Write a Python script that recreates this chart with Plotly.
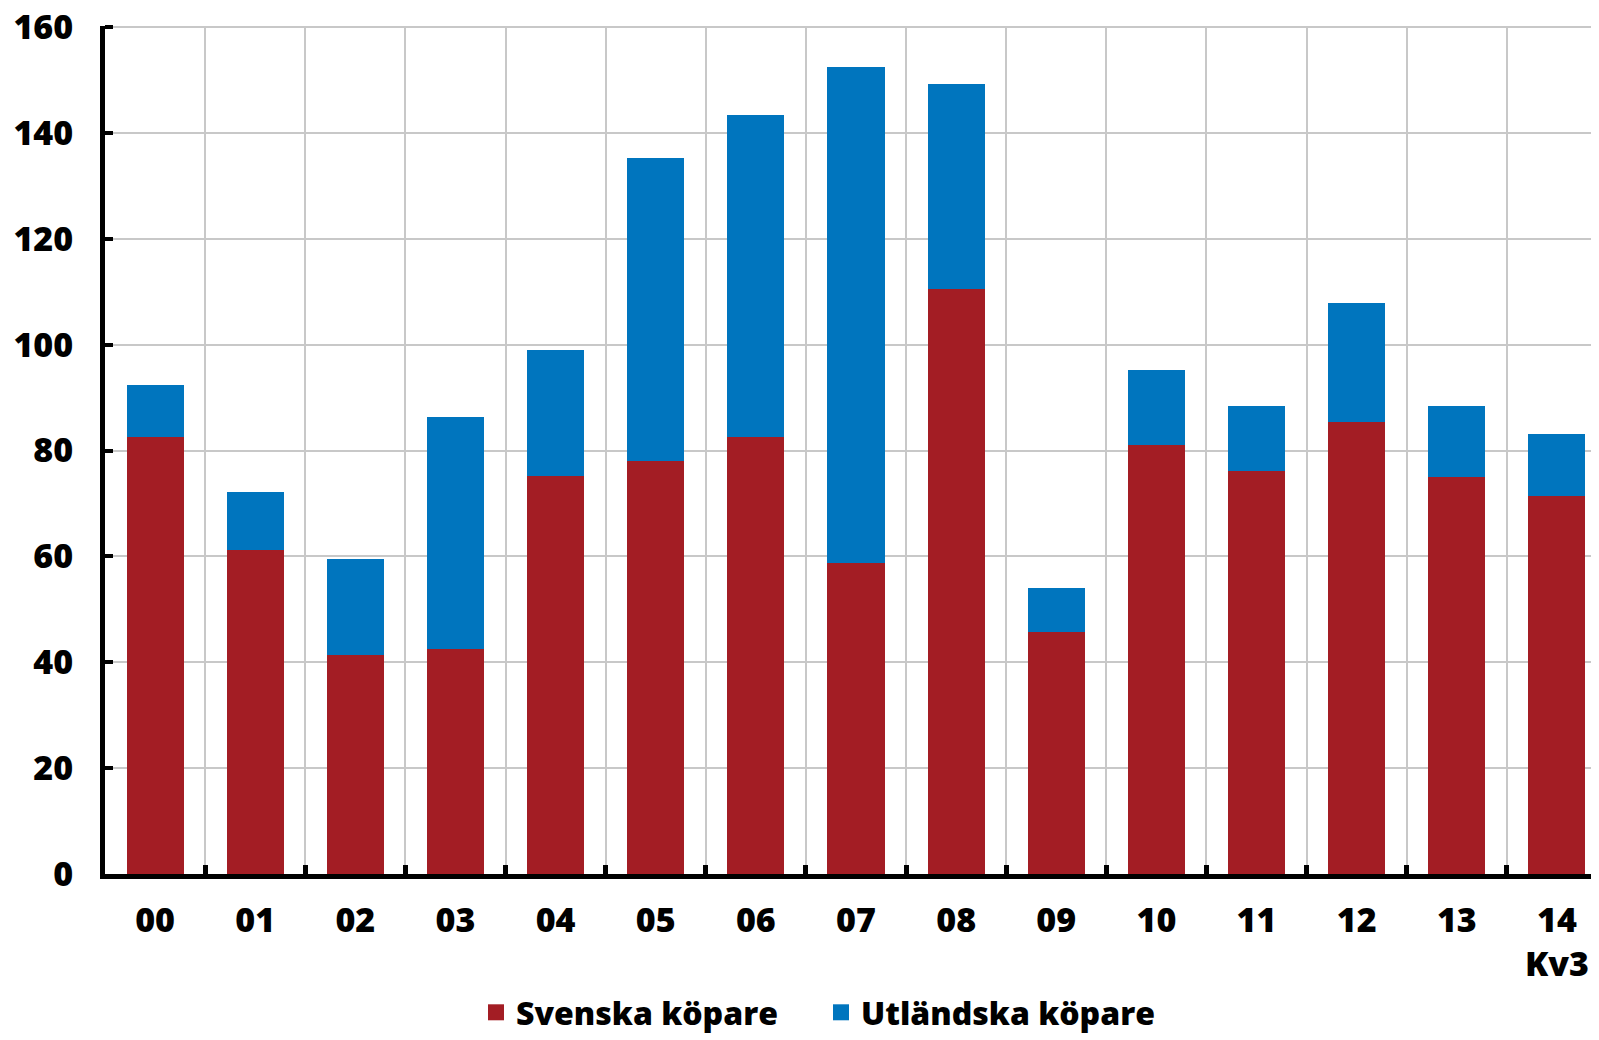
import plotly.graph_objects as go

years = ['00', '01', '02', '03', '04', '05', '06', '07', '08', '09', '10', '11', '12', '13', '14<br>Kv3']
svenska = [82.5, 61.2, 41.3, 42.5, 75.2, 78.1, 82.5, 58.7, 110.6, 45.8, 81.0, 76.2, 85.4, 75.0, 71.5]
utlandska = [9.8, 10.9, 18.3, 43.8, 23.8, 57.1, 60.8, 93.8, 38.6, 8.2, 14.2, 12.3, 22.5, 13.5, 11.6]
y_ticks = [0, 20, 40, 60, 80, 100, 120, 140, 160]

RED = '#A31D24'
BLUE = '#0075BE'
FONT = 'Open Sans'

x = list(range(len(years)))

fig = go.Figure()
fig.add_trace(go.Bar(x=x, y=svenska, name='Svenska köpare', marker=dict(color=RED, line=dict(width=0)),
                     width=0.57, showlegend=False))
fig.add_trace(go.Bar(x=x, y=utlandska, name='Utländska köpare', marker=dict(color=BLUE, line=dict(width=0)),
                     width=0.57, showlegend=False))
# legend entries with bigger square swatches
for name, col in [('Svenska köpare', RED), ('Utländska köpare', BLUE)]:
    fig.add_trace(go.Scatter(x=[None], y=[None], mode='markers', name=name,
                             marker=dict(symbol='square', size=18, color=col)))

fig.update_layout(
    barmode='stack',
    width=1591,
    height=1032,
    margin=dict(l=97, r=0, t=18, b=166, autoexpand=False),
    plot_bgcolor='white',
    paper_bgcolor='white',
    font=dict(family=FONT, size=34, color='black', weight=800),
    legend=dict(
        orientation='h',
        traceorder='normal',
        xref='container', yref='container',
        x=0.511, xanchor='center',
        y=0.0, yanchor='bottom',
        font=dict(family=FONT, size=32, color='black', weight=800),
        itemsizing='trace',
        itemwidth=30,
        entrywidth=300,
    ),
    xaxis=dict(
        range=[-0.5, 14.42],
        tickmode='array',
        tickvals=x,
        ticktext=years,
        ticks='',
        showgrid=False,
        zeroline=False,
        showline=True,
        linecolor='black',
        linewidth=5,
        ticklabelstandoff=12,
        ticklabeloverflow='allow',
        minor=dict(
            tickvals=[i + 0.5 for i in x],
            showgrid=True,
            gridcolor='#C8C8C8',
            gridwidth=1.5,
            ticks='inside',
            ticklen=9,
            tickwidth=5,
            tickcolor='black',
        ),
    ),
    yaxis=dict(
        range=[0, 160.2],
        tickmode='array',
        tickvals=y_ticks,
        ticks='inside',
        ticklen=8,
        tickwidth=4,
        tickcolor='black',
        showgrid=True,
        gridcolor='#C8C8C8',
        gridwidth=1.5,
        zeroline=False,
        showline=True,
        linecolor='black',
        linewidth=5,
        ticklabelstandoff=20,
        ticklabeloverflow='allow',
    ),
)

fig.write_html("out.html")
